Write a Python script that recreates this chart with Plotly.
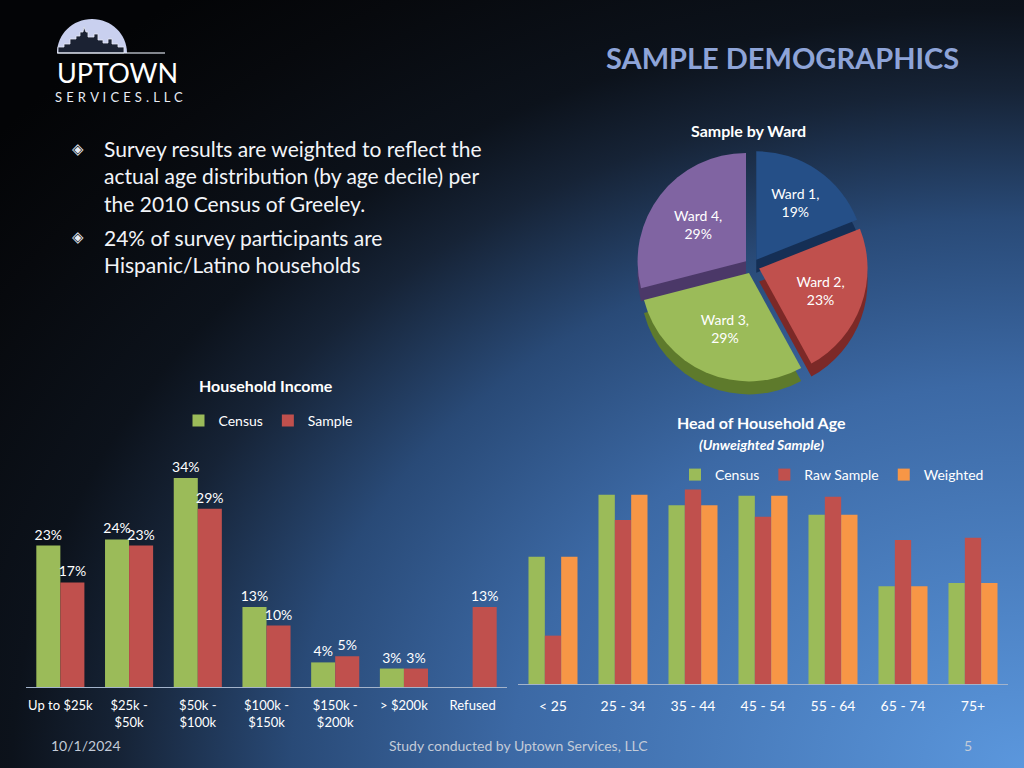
import base64
import plotly.graph_objects as go

# ---------------- data ----------------
ward_labels = ["Ward 1", "Ward 2", "Ward 3", "Ward 4"]
ward_values = [19, 23, 29, 29]

income_categories = ["Up to $25k", "$25k -<br>$50k", "$50k -<br>$100k", "$100k -<br>$150k",
                     "$150k -<br>$200k", "> $200k", "Refused"]
income_census = [23, 24, 34, 13, 4, 3, None]
income_sample = [17, 23, 29, 10, 5, 3, 13]

age_categories = ["< 25", "25 - 34", "35 - 44", "45 - 54", "55 - 64", "65 - 74", "75+"]
age_census = [12.1, 18.0, 17.0, 17.9, 16.1, 9.3, 9.6]
age_raw = [4.6, 15.6, 18.5, 15.9, 17.8, 13.7, 13.9]
age_weighted = [12.1, 18.0, 17.0, 17.9, 16.1, 9.3, 9.6]

bullet_lines = [
    ["Survey results are weighted to reflect the",
     "actual age distribution (by age decile) per",
     "the 2010 Census of Greeley."],
    ["24% of survey participants are",
     "Hispanic/Latino households"],
]

# ---------------- style ----------------
W, H = 1024, 768
FONT = "Lato, 'Open Sans', sans-serif"
GREEN, RED, ORANGE = "#9bbb59", "#c0504d", "#f79646"
WARD_COLORS = ["#254f87", "#c0504d", "#9bbb59", "#8064a2"]
WARD_SIDES = ["#152f55", "#7c2927", "#5e7a2c", "#4b3868"]
TXT = "#ffffff"


def px(x):
    return x / W


def py(y):
    return 1 - y / H


# background gradient (radial from bottom-right)
svg = f'''<svg xmlns="http://www.w3.org/2000/svg" width="{W}" height="{H}" viewBox="0 0 {W} {H}" preserveAspectRatio="none">
<defs>
<radialGradient id="g" cx="1" cy="1" r="1.3" fx="1" fy="1">
<stop offset="0" stop-color="#5b97dd"/>
<stop offset="0.385" stop-color="#3c69a5"/>
<stop offset="0.55" stop-color="#294a77"/>
<stop offset="0.68" stop-color="#162336"/>
<stop offset="0.76" stop-color="#0c121b"/>
<stop offset="0.9" stop-color="#07090d"/>
<stop offset="1" stop-color="#030406"/>
</radialGradient>
</defs>
<rect x="0" y="0" width="{W}" height="{H}" fill="url(#g)"/>
</svg>'''
bg_uri = "data:image/svg+xml;base64," + base64.b64encode(svg.encode()).decode()

fig = go.Figure()

# ---------------- household income ----------------
fig.add_trace(go.Bar(
    x=income_categories, y=income_census, name="Census", marker=dict(color=GREEN, line=dict(width=0)),
    texttemplate="%{y}%", textposition="outside", constraintext="none",
    textfont=dict(color=TXT, size=14, family=FONT), cliponaxis=False,
    xaxis="x", yaxis="y", legend="legend"))
fig.add_trace(go.Bar(
    x=income_categories, y=income_sample, name="Sample", marker=dict(color=RED, line=dict(width=0)),
    texttemplate="%{y}%", textposition="outside", constraintext="none",
    textfont=dict(color=TXT, size=14, family=FONT), cliponaxis=False,
    xaxis="x", yaxis="y", legend="legend"))

# ---------------- head of household age ----------------
for vals, name, col in [(age_census, "Census", GREEN), (age_raw, "Raw Sample", RED),
                        (age_weighted, "Weighted", ORANGE)]:
    fig.add_trace(go.Bar(x=age_categories, y=vals, name=name, marker=dict(color=col, line=dict(width=0)),
                         xaxis="x2", yaxis="y2", legend="legend2"))

# ---------------- pie (with a darker "side" layer for depth) ----------------
pcx, pcy, half, depth = 752, 266, 116, 13
fig.add_trace(go.Pie(
    labels=ward_labels, values=ward_values, sort=False, direction="clockwise", rotation=0,
    marker=dict(colors=WARD_SIDES, line=dict(width=0)), pull=0.07, textinfo="none",
    hoverinfo="skip", showlegend=False,
    domain=dict(x=[px(pcx - half), px(pcx + half)], y=[py(pcy + depth + half), py(pcy + depth - half)])))
fig.add_trace(go.Pie(
    labels=ward_labels, values=ward_values, sort=False, direction="clockwise", rotation=0,
    marker=dict(colors=WARD_COLORS, line=dict(width=0)), pull=0.07,
    texttemplate="%{label},<br>%{value}%", textposition="inside", insidetextorientation="horizontal",
    insidetextfont=dict(color=TXT, size=14, family=FONT), showlegend=False,
    domain=dict(x=[px(pcx - half), px(pcx + half)], y=[py(pcy + half), py(pcy - half)])))

# ---------------- annotations ----------------
ann = []


def text(x, y, s, size=14, color=TXT, bold=False, italic=False, xanchor="center", family=FONT):
    if bold:
        s = f"<b>{s}</b>"
    if italic:
        s = f"<i>{s}</i>"
    ann.append(dict(x=px(x), y=py(y), xref="paper", yref="paper", text=s, showarrow=False,
                    xanchor=xanchor, yanchor="middle", font=dict(size=size, color=color, family=family)))


text(782, 57, "SAMPLE DEMOGRAPHICS", size=29, color="#8ea4d8", bold=True)
text(117, 72, "UPTOWN", size=27, color="#ffffff")
text(119, 97, "\u200a".join("S E R V I C E S . L L C".split(" ")).replace("\u200a", " \u200a"),
     size=13, color="#e8ecf4")

text(748, 131, "Sample by Ward", size=16, bold=True)
text(266, 385, "Household Income", size=16, bold=True)
text(761, 422, "Head of Household Age", size=16, bold=True)
text(761, 444, "(Unweighted Sample)", size=14, bold=True, italic=True)

ys = [[149, 176, 203], [237, 264]]
for grp, yy in zip(bullet_lines, ys):
    text(78, yy[0], "◈", size=15, color="#e8ecf4", family="DejaVu Sans")
    for line, y in zip(grp, yy):
        text(102, y, line, size=21, color="#f2f4f8", xanchor="left")

text(86, 745, "10/1/2024", size=14, color="#c3cbd8")
text(518, 745, "Study conducted by Uptown Services, LLC", size=14, color="#c3cbd8")
text(968, 745, "5", size=14, color="#c3cbd8")

# ---------------- logo shapes ----------------
def path(cmds):
    out = []
    for c in cmds:
        if isinstance(c, str):
            out.append(c)
        else:
            out.append(f"{px(c[0]):.5f},{py(c[1]):.5f}")
    return " ".join(out)


k = 0.5523
cx, cy, rx, ry = 92, 53, 35, 34
dome = path(["M", (cx - rx, cy), "C", (cx - rx, cy - ry * k), (cx - rx * k, cy - ry), (cx, cy - ry),
             "C", (cx + rx * k, cy - ry), (cx + rx, cy - ry * k), (cx + rx, cy), "Z"])
sky_pts = [(58, 53), (58, 47), (64, 47), (64, 44), (70, 44), (70, 39), (76, 39), (76, 36), (80, 36),
           (80, 32), (83, 32), (84, 27), (86, 32), (88, 32), (88, 37), (94, 37), (94, 34), (98, 34),
           (98, 40), (103, 40), (103, 43), (108, 43), (108, 39), (112, 39), (112, 44), (118, 44),
           (118, 47), (124, 47), (124, 53)]
sky = "M " + " L ".join(path([p]) for p in sky_pts) + " Z"

shapes = [
    dict(type="path", path=dome, xref="paper", yref="paper", fillcolor="#c9d0ef",
         line=dict(width=0), layer="above"),
    dict(type="path", path=sky, xref="paper", yref="paper", fillcolor="#1b2233",
         line=dict(color="#e6e9f5", width=0.8), layer="above"),
    dict(type="line", x0=px(57), x1=px(165), y0=py(53), y1=py(53), xref="paper", yref="paper",
         line=dict(color="rgba(230,235,245,0.75)", width=1.5), layer="above"),
]

axis_common = dict(showgrid=False, zeroline=False, showline=True, linecolor="#a3b3cb", linewidth=1,
                   ticks="outside", tickcolor="rgba(0,0,0,0)", fixedrange=True)

fig.update_layout(
    width=W, height=H, margin=dict(l=0, r=0, t=0, b=0),
    paper_bgcolor="#0b1018", plot_bgcolor="rgba(0,0,0,0)",
    font=dict(family=FONT, color=TXT),
    barmode="group", bargap=0.3, bargroupgap=0,
    images=[dict(source=bg_uri, xref="paper", yref="paper", x=0, y=1, sizex=1, sizey=1,
                 sizing="stretch", layer="below", xanchor="left", yanchor="top")],
    xaxis=dict(domain=[px(26), px(507)], anchor="y", ticklen=6, tickfont=dict(size=13, color=TXT), **axis_common),
    yaxis=dict(domain=[py(687), py(441)], range=[0, 40], visible=False, fixedrange=True),
    xaxis2=dict(domain=[px(518), px(1008)], anchor="y2", ticklen=9, tickfont=dict(size=14, color=TXT), **axis_common),
    yaxis2=dict(domain=[py(684), py(473.7)], range=[0, 20], visible=False, fixedrange=True),
    legend=dict(orientation="h", x=px(268), y=py(421), xanchor="center", yanchor="middle",
                font=dict(size=14, color=TXT), bgcolor="rgba(0,0,0,0)", itemwidth=30),
    legend2=dict(orientation="h", x=px(832), y=py(475), xanchor="center", yanchor="middle",
                 font=dict(size=14, color=TXT), bgcolor="rgba(0,0,0,0)", itemwidth=30),
    annotations=ann, shapes=shapes,
)

fig.write_html("out.html", include_plotlyjs=True, config={"displayModeBar": False},
               post_script="document.body.style.margin='0';document.body.style.overflow='hidden';")
